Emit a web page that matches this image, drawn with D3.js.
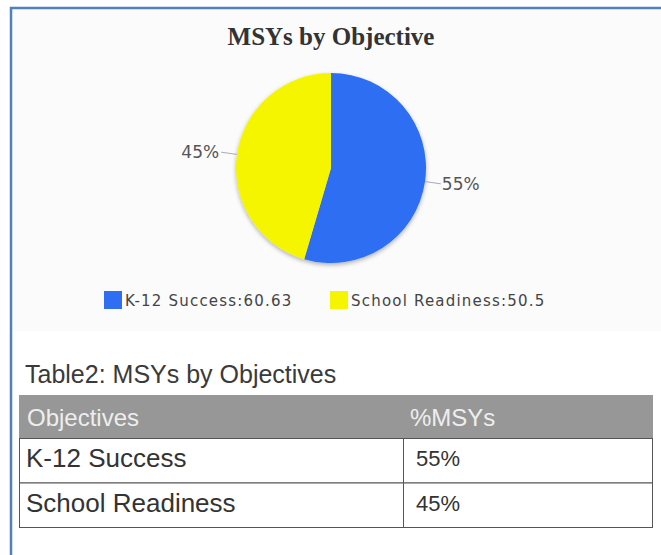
<!DOCTYPE html>
<html>
<head>
    <script src="https://cdn.jsdelivr.net/npm/d3@7"></script>
    <meta charset="utf-8">
    <style>
        body { margin: 0; background: #fff; }
    </style>
</head>
<body>
    <script>
        // values
        var categories = ['K-12 Success', 'School Readiness'];
        var msys = [60.63, 50.5];
        var sliceColors = ['#2f6ef2', '#f5f500'];
        var tableHead = ['Objectives', '%MSYs'];

        var width = 661, height = 555;

        var svg = d3.select('body')
            .append('svg')
            .attr('width', width)
            .attr('height', height);

        // light panel behind the chart + blue frame
        svg.append('rect')
            .attr('x', 12).attr('y', 9)
            .attr('width', width - 12).attr('height', 322)
            .attr('fill', '#fbfbfb');
        svg.append('path')
            .attr('d', 'M11,' + height + 'V8H' + width)
            .attr('fill', 'none')
            .attr('stroke', '#4f81bd')
            .attr('stroke-width', 2.5);

        svg.append('text')
            .attr('x', 331).attr('y', 45)
            .attr('text-anchor', 'middle')
            .style('font-family', '"Liberation Serif", serif')
            .style('font-weight', 'bold')
            .style('font-size', '25px')
            .attr('fill', '#333')
            .text('MSYs by Objective');

        // pie
        var cx = 331, cy = 168, radius = 95;
        var total = d3.sum(msys);
        var pie = d3.pie().sort(null)(msys);
        var arc = d3.arc().innerRadius(0).outerRadius(radius);

        var defs = svg.append('defs');
        defs.append('filter').attr('id', 'shadow')
            .attr('x', '-20%').attr('y', '-20%').attr('width', '140%').attr('height', '140%')
            .append('feDropShadow')
            .attr('dx', 0).attr('dy', 2).attr('stdDeviation', 2)
            .attr('flood-color', '#000').attr('flood-opacity', 0.3);

        var pieG = svg.append('g')
            .attr('transform', 'translate(' + cx + ',' + cy + ')');

        pieG.append('g').attr('filter', 'url(#shadow)')
            .selectAll('path')
            .data(pie)
            .enter()
            .append('path')
            .attr('d', arc)
            .attr('fill', function (d, i) { return sliceColors[i]; });

        function edge(d, r) {
            var a = (d.startAngle + d.endAngle) / 2;
            return [Math.sin(a) * r, -Math.cos(a) * r];
        }

        pieG.selectAll('line.lead')
            .data(pie)
            .enter()
            .append('line')
            .attr('class', 'lead')
            .attr('x1', function (d) { return edge(d, radius)[0]; })
            .attr('y1', function (d) { return edge(d, radius)[1]; })
            .attr('x2', function (d) { return edge(d, radius + 16)[0]; })
            .attr('y2', function (d) { return edge(d, radius + 16)[1]; })
            .attr('stroke', '#aab')
            .attr('stroke-width', 1);

        pieG.selectAll('text.pct')
            .data(pie)
            .enter()
            .append('text')
            .attr('class', 'pct')
            .attr('x', function (d) {
                var p = edge(d, radius + 17);
                return p[0] + (p[0] > 0 ? 0 : -1);
            })
            .attr('y', function (d) { return edge(d, radius + 17)[1] + 6; })
            .attr('text-anchor', function (d) { return edge(d, 1)[0] > 0 ? 'start' : 'end'; })
            .style('font-family', '"DejaVu Sans", sans-serif')
            .style('font-size', '17px')
            .attr('fill', '#555')
            .text(function (d) { return Math.round(d.value / total * 100) + '%'; });

        // legend
        var legendX = [104, 330];
        var legend = svg.selectAll('g.legend')
            .data(categories)
            .enter()
            .append('g')
            .attr('class', 'legend')
            .attr('transform', function (d, i) { return 'translate(' + legendX[i] + ',291)'; });
        legend.append('rect')
            .attr('width', 18).attr('height', 18)
            .attr('fill', function (d, i) { return sliceColors[i]; });
        legend.append('text')
            .attr('x', 21).attr('y', 15)
            .style('font-family', '"DejaVu Sans", sans-serif')
            .style('font-size', '15px')
            .style('letter-spacing', '1.2px')
            .attr('fill', '#444')
            .text(function (d, i) { return d + ':' + msys[i]; });

        // table
        svg.append('text')
            .attr('x', 25).attr('y', 383)
            .style('font-family', '"Liberation Sans", Arial, sans-serif')
            .style('font-size', '25px')
            .attr('fill', '#3a3a3a')
            .text('Table2: MSYs by Objectives');

        var tx0 = 19, tx1 = 653, colX = 403;
        var headTop = 395, headBottom = 438;
        var rowY = d3.scaleBand().domain(categories).range([headBottom, 527]);

        svg.append('rect')
            .attr('x', tx0).attr('y', headTop)
            .attr('width', tx1 - tx0).attr('height', headBottom - headTop)
            .attr('fill', '#979797');

        svg.selectAll('text.head')
            .data(tableHead)
            .enter()
            .append('text')
            .attr('class', 'head')
            .attr('x', function (d, i) { return i ? colX + 7 : tx0 + 8; })
            .attr('y', 426)
            .style('font-family', '"Liberation Sans", Arial, sans-serif')
            .style('font-size', '24px')
            .attr('fill', '#eeeeee')
            .text(function (d) { return d; });

        var rows = svg.selectAll('g.row')
            .data(categories)
            .enter()
            .append('g')
            .attr('class', 'row')
            .attr('transform', function (d) { return 'translate(0,' + rowY(d) + ')'; });

        rows.append('rect')
            .attr('x', tx0 + 0.5).attr('y', 0.5)
            .attr('width', tx1 - tx0 - 1).attr('height', rowY.bandwidth())
            .attr('fill', '#fff')
            .attr('stroke', '#555');
        rows.append('line')
            .attr('x1', colX + 0.5).attr('x2', colX + 0.5)
            .attr('y1', 0).attr('y2', rowY.bandwidth())
            .attr('stroke', '#555');
        rows.append('text')
            .attr('x', tx0 + 7).attr('y', 29)
            .style('font-family', '"Liberation Sans", Arial, sans-serif')
            .style('font-size', '26px')
            .attr('fill', '#333')
            .text(function (d) { return d; });
        rows.append('text')
            .attr('x', colX + 13).attr('y', 28)
            .style('font-family', '"Liberation Sans", Arial, sans-serif')
            .style('font-size', '22px')
            .attr('fill', '#333')
            .text(function (d, i) { return Math.round(msys[i] / total * 100) + '%'; });
    </script>
</body>
</html>
